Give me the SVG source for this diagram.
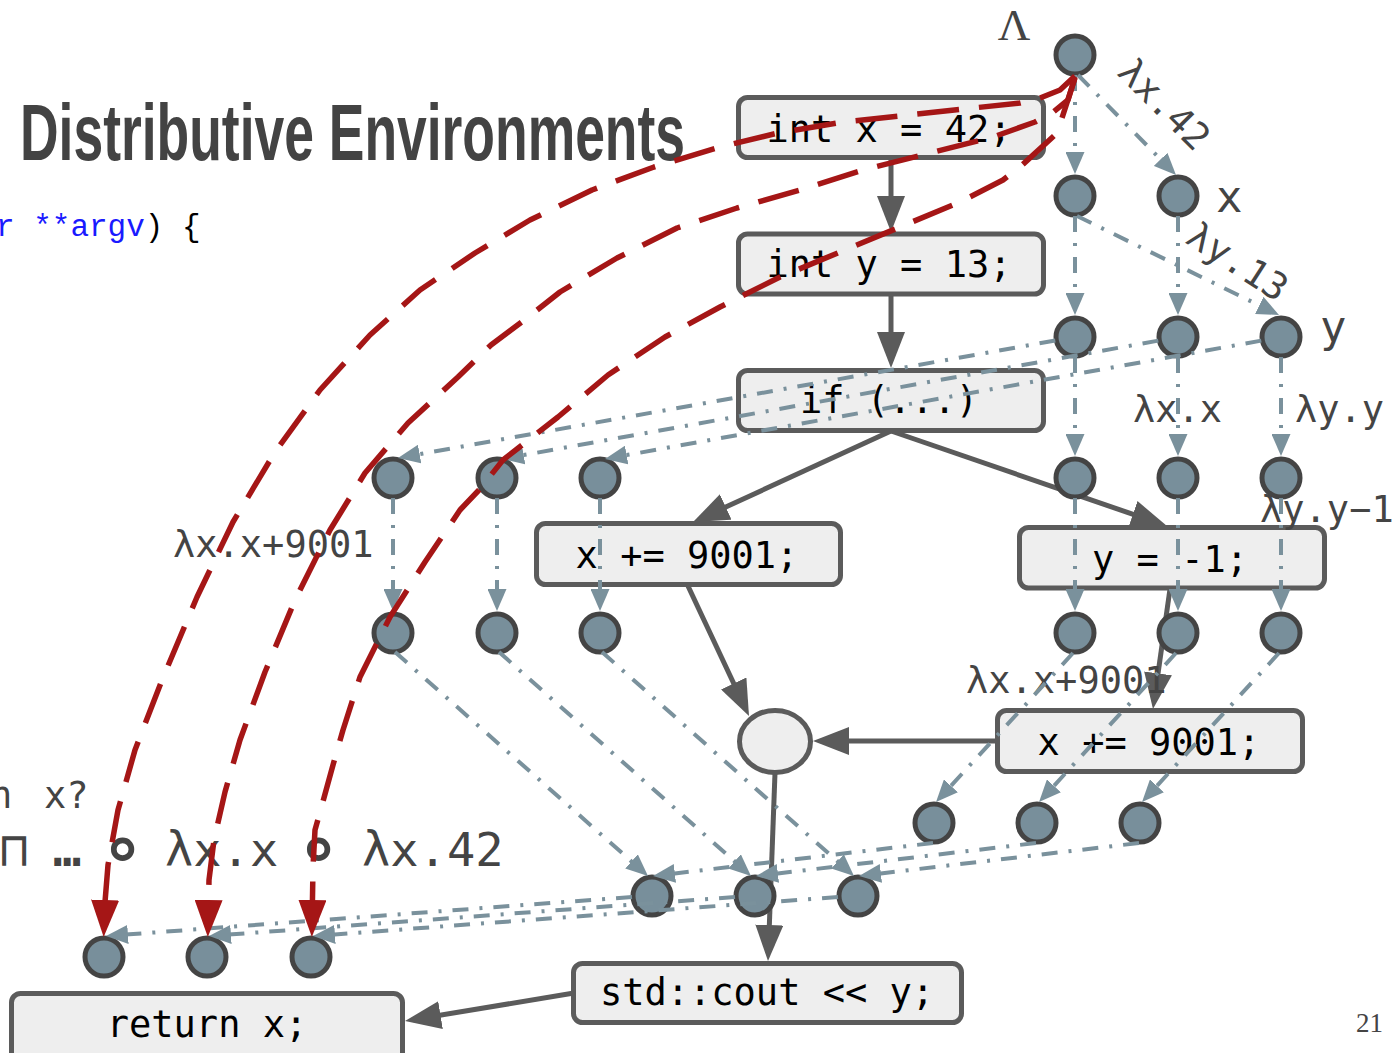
<svg xmlns="http://www.w3.org/2000/svg" width="1394" height="1053" viewBox="0 0 1394 1053">
<defs>
<style>
.box{fill:#eeeeee;stroke:#5b5b5b;stroke-width:5}
.dot{fill:#788f9b;stroke:#444444;stroke-width:5}
.code{font-family:'DejaVu Sans Mono',monospace;font-size:37px;fill:#000000;text-anchor:middle}
.lbl{font-family:'DejaVu Sans Mono',monospace;font-size:37px;fill:#444444}
.big{font-family:'DejaVu Sans Mono',monospace;font-size:44px;fill:#444444}
.big2{font-family:'DejaVu Sans Mono','DejaVu Sans',monospace;font-size:47px;fill:#444444}
.flow{stroke:#5b5b5b;stroke-width:5;fill:none;marker-end:url(#ag)}
.env{stroke:#7a919c;stroke-width:4;fill:none;stroke-dasharray:16 11 3 11;marker-end:url(#ab)}
.red{stroke:#a51616;stroke-width:5.5;fill:none;stroke-dasharray:42 20;stroke-linejoin:round;marker-end:url(#ar)}
</style>
<marker id="ag" viewBox="0 0 36 28" markerUnits="userSpaceOnUse" markerWidth="36" markerHeight="28" refX="28" refY="14" orient="auto"><path d="M0,0 L36,14 L0,28 z" fill="#5b5b5b"/></marker>
<marker id="ab" viewBox="0 0 22 19" markerUnits="userSpaceOnUse" markerWidth="22" markerHeight="19" refX="16" refY="9.5" orient="auto"><path d="M0,0 L22,9.5 L0,19 z" fill="#7a919c"/></marker>
<marker id="ar" viewBox="0 0 37 28" markerUnits="userSpaceOnUse" markerWidth="37" markerHeight="28" refX="28" refY="14" orient="auto"><path d="M0,0 L37,14 L0,28 z" fill="#a51616"/></marker>
</defs>
<rect x="0" y="0" width="1394" height="1053" fill="#ffffff"/>

<g id="slide-text">
<text x="20" y="160" textLength="665" lengthAdjust="spacingAndGlyphs" font-family="'Liberation Sans Narrow','Liberation Sans',sans-serif" font-size="80" font-weight="bold" fill="#434343">Distributive Environments</text>
<text x="-4" y="236" font-family="'Liberation Mono',monospace" font-size="31"><tspan fill="#1a1aff">r **argv</tspan><tspan fill="#000000">) {</tspan></text>
<text class="lbl" y="808"><tspan x="-10">n</tspan> <tspan x="44">x?</tspan></text>
<text class="big2" y="866"><tspan x="0">⊓</tspan> <tspan x="53" font-weight="bold">…</tspan> <tspan x="101" y="874" font-size="72" font-weight="bold">∘</tspan> <tspan x="165" y="866">λx.x</tspan> <tspan x="297" y="874" font-size="72" font-weight="bold">∘</tspan> <tspan x="362" y="866">λx.42</tspan></text>
<text x="1356" y="1032" font-family="'Liberation Serif',serif" font-size="27" fill="#444444">21</text>
</g>

<g id="connectors-flow">
<path class="flow" d="M891,158 L891,224"/>
<path class="flow" d="M891,294 L891,360"/>
<path class="flow" d="M891,431 L700.3,518.7"/>
<path class="flow" d="M891,431 L1159.4,523.4"/>
<path class="flow" d="M688,586 L745.6,708.8"/>
<path class="flow" d="M998,741 L821,741"/>
<path class="flow" d="M1170,589 L1154.1,701.1"/>
<path class="flow" d="M775,773 L768.3,953"/>
<path class="flow" d="M574,993 L412.9,1019.7"/>
</g>

<g id="n-intx"><rect class="box" x="738.5" y="97.5" width="305" height="60" rx="9"/><text class="code" x="889" y="142">int x = 42;</text></g>
<g id="n-inty"><rect class="box" x="738.5" y="234" width="305" height="60" rx="9"/><text class="code" x="889" y="277">int y = 13;</text></g>
<g id="n-if"><rect class="box" x="738.5" y="370.5" width="305" height="60" rx="9"/><text class="code" x="889" y="413">if (...)</text></g>
<g id="n-xadd1"><rect class="box" x="536.5" y="523.5" width="304" height="61" rx="9"/><text class="code" x="687" y="568">x += 9001;</text></g>
<g id="n-ym1"><rect class="box" x="1019.5" y="527.5" width="305" height="60.5" rx="9"/><text class="code" x="1170" y="572">y = -1;</text></g>
<g id="n-xadd2"><rect class="box" x="997.5" y="710.5" width="305" height="61" rx="9"/><text class="code" x="1149" y="755">x += 9001;</text></g>
<g id="n-merge"><ellipse class="box" cx="775" cy="741.5" rx="35.5" ry="31"/></g>
<g id="n-cout"><rect class="box" x="573.5" y="963.5" width="388" height="59" rx="9"/><text class="code" x="767" y="1005">std::cout &lt;&lt; y;</text></g>
<g id="n-ret"><rect class="box" x="11.5" y="993.5" width="391" height="80" rx="9"/><text class="code" x="207" y="1037">return x;</text></g>

<g id="env-top"><circle class="dot" cx="1075" cy="55" r="19"/></g>
<g id="env-a1"><circle class="dot" cx="1075" cy="196" r="19"/></g>
<g id="env-x1"><circle class="dot" cx="1178" cy="196" r="19"/></g>
<g id="env-a2"><circle class="dot" cx="1075" cy="337" r="19"/></g>
<g id="env-x2"><circle class="dot" cx="1178" cy="337" r="19"/></g>
<g id="env-y2"><circle class="dot" cx="1281" cy="337" r="19"/></g>
<g id="env-a3"><circle class="dot" cx="1075" cy="478" r="19"/></g>
<g id="env-x3"><circle class="dot" cx="1178" cy="478" r="19"/></g>
<g id="env-y3"><circle class="dot" cx="1281" cy="478" r="19"/></g>
<g id="env-l1a"><circle class="dot" cx="393" cy="478" r="19"/></g>
<g id="env-l1b"><circle class="dot" cx="497" cy="478" r="19"/></g>
<g id="env-l1c"><circle class="dot" cx="600" cy="478" r="19"/></g>
<g id="env-l2a"><circle class="dot" cx="393" cy="633" r="19"/></g>
<g id="env-l2b"><circle class="dot" cx="497" cy="633" r="19"/></g>
<g id="env-l2c"><circle class="dot" cx="600" cy="633" r="19"/></g>
<g id="env-r4a"><circle class="dot" cx="1075" cy="633" r="19"/></g>
<g id="env-r4b"><circle class="dot" cx="1178" cy="633" r="19"/></g>
<g id="env-r4c"><circle class="dot" cx="1281" cy="633" r="19"/></g>
<g id="env-r5a"><circle class="dot" cx="934" cy="823" r="19"/></g>
<g id="env-r5b"><circle class="dot" cx="1037" cy="823" r="19"/></g>
<g id="env-r5c"><circle class="dot" cx="1140" cy="823" r="19"/></g>
<g id="env-m1"><circle class="dot" cx="652" cy="896" r="19"/></g>
<g id="env-m2"><circle class="dot" cx="755" cy="896" r="19"/></g>
<g id="env-m3"><circle class="dot" cx="858" cy="896" r="19"/></g>
<g id="env-b1"><circle class="dot" cx="104" cy="957" r="19"/></g>
<g id="env-b2"><circle class="dot" cx="207" cy="957" r="19"/></g>
<g id="env-b3"><circle class="dot" cx="311" cy="957" r="19"/></g>

<g id="labels">
<text x="1014" y="40" text-anchor="middle" font-family="'Liberation Serif',serif" font-size="45" fill="#444444">Λ</text>
<text class="lbl" transform="translate(1116,74) rotate(45)">λx.42</text>
<text class="lbl" transform="translate(1184,242) rotate(33)">λy.13</text>
<text class="big" x="1216" y="212">x</text>
<text class="big" x="1320" y="342">y</text>
<text class="lbl" x="1133" y="422">λx.x</text>
<text class="lbl" x="1295" y="422">λy.y</text>
<text class="lbl" x="1260" y="522">λy.y−1</text>
<text class="lbl" x="173" y="557">λx.x+9001</text>
<text class="lbl" x="966" y="693">λx.x+9001</text>
</g>

<g id="connectors-env">
<path class="env" d="M1075,75 L1075,168"/>
<path class="env" d="M1078,75 L1171.8,170.8"/>
<path class="env" d="M1075,216 L1075,309"/>
<path class="env" d="M1178,216 L1178,309"/>
<path class="env" d="M1077,216 L1273.6,312.4"/>
<path class="env" d="M1075,357 L1075,450"/>
<path class="env" d="M1178,357 L1178,450"/>
<path class="env" d="M1281,357 L1281,450"/>
<path class="env" d="M1055.3,340.5 L403.9,456.9"/>
<path class="env" d="M1158.3,340.6 L507.9,457.9"/>
<path class="env" d="M1261.3,340.6 L610.9,457.9"/>
<path class="env" d="M393,498 L393,605"/>
<path class="env" d="M497,498 L497,605"/>
<path class="env" d="M600,498 L600,605"/>
<path class="env" d="M1075,498 L1075,605"/>
<path class="env" d="M1178,498 L1178,605"/>
<path class="env" d="M1281,498 L1281,605"/>
<path class="env" d="M1073,653 L940.1,797.6"/>
<path class="env" d="M1176,653 L1043.1,797.6"/>
<path class="env" d="M1279,653 L1146.1,797.6"/>
<path class="env" d="M395,652 L643.5,872"/>
<path class="env" d="M499,652 L746.5,872"/>
<path class="env" d="M602,652 L849.5,872"/>
<path class="env" d="M933,843 L659,875.3"/>
<path class="env" d="M1036,843 L762,875.3"/>
<path class="env" d="M1139,843 L865,875.3"/>
<path class="env" d="M632,897 L112,935.6"/>
<path class="env" d="M735,897 L215,935.6"/>
<path class="env" d="M838,897 L319,935.6"/>
</g>

<g id="connectors-distrib">
<path class="red" d="M1075,76 L1060,90 L1040,98 L1020,103 L973,108 L908,115 L843,122 L778,133 L720,147 L654,167 L592,190 L530,220 L475,253 L420,290 L370,335 L320,390 L275,452 L233,522 L197,597 L162,680 L135,750 L118,810 L108,865 L105,902 L104,928"/>
<path class="red" d="M1075,77 L1068,100 L1052,113 L1035,122 L993,137 L930,153 L863,170 L800,190 L737,208 L677,228 L617,258 L560,292 L527,318 L491,345 L458,377 L408,423 L365,473 L330,530 L295,600 L265,672 L240,740 L225,792 L214,840 L209,880 L208,928"/>
<path class="red" d="M1075,78 L1062,118 L1055,135 L1020,167 L1003,180 L960,202 L900,227 L840,252 L780,277 L720,307 L665,337 L608,375 L558,417 L503,460 L479,490 L460,510 L425,562 L390,617 L360,677 L343,730 L333,765 L322,805 L315,830 L313,867 L312,928"/>
</g>
</svg>
